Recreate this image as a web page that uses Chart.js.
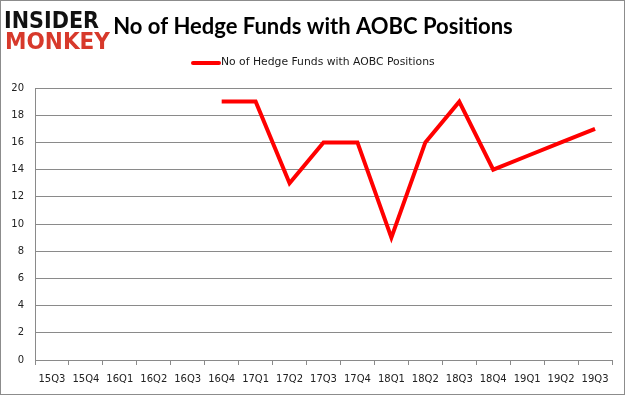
<!DOCTYPE html>
<html lang="en">
<head>
    <meta charset="UTF-8">
    <title>No of Hedge Funds with AOBC Positions</title>
    <script src="https://cdn.jsdelivr.net/npm/chart.js"></script>
    <style>
        html, body { margin: 0; padding: 0; background: #fff; }
        #wrap { width: 625px; height: 395px; }
    </style>
</head>
<body>
    <div id="wrap"><canvas id="myChart" width="625" height="395"></canvas></div>

    <script>
        // data
        const quarters = ['15Q3', '15Q4', '16Q1', '16Q2', '16Q3', '16Q4', '17Q1', '17Q2', '17Q3',
                          '17Q4', '18Q1', '18Q2', '18Q3', '18Q4', '19Q1', '19Q2', '19Q3'];
        const hedgeFundCounts = [null, null, null, null, null, 19, 19, 13, 16, 16, 9, 16, 19, 14, 15, 16, 17];
        const seriesName = 'No of Hedge Funds with AOBC Positions';
        const chartTitle = 'No of Hedge Funds with AOBC Positions';

        const gridGray = '#8a8a8a';

        // draw text squeezed/stretched to a given width
        function fitText(ctx, text, x, y, w) {
            const m = ctx.measureText(text).width;
            ctx.save();
            ctx.translate(x, y);
            ctx.scale(w / m, 1);
            ctx.fillText(text, 0, 0);
            ctx.restore();
        }

        // logo, title, legend and frame
        const decorPlugin = {
            id: 'decor',
            afterDraw: (chart) => {
                const { ctx } = chart;
                ctx.save();

                // frame
                ctx.strokeStyle = '#8c8c8c';
                ctx.lineWidth = 1;
                ctx.strokeRect(0.5, 0.5, chart.width - 1, chart.height - 1);

                // logo
                ctx.textBaseline = 'alphabetic';
                ctx.textAlign = 'left';
                ctx.font = 'bold 23px "DejaVu Sans"';
                ctx.fillStyle = '#111111';
                fitText(ctx, 'INSIDER', 4, 28, 95);
                ctx.fillStyle = '#d7392b';
                fitText(ctx, 'MONKEY', 5, 49, 105);

                // title
                ctx.fillStyle = '#000000';
                ctx.font = 'bold 22px Lato';
                ctx.textAlign = 'center';
                ctx.textBaseline = 'middle';
                ctx.fillText(chartTitle, 313, 27);

                // legend
                ctx.strokeStyle = '#ff0000';
                ctx.lineWidth = 4;
                ctx.lineCap = 'round';
                ctx.beginPath();
                ctx.moveTo(193, 63);
                ctx.lineTo(219, 63);
                ctx.stroke();
                ctx.fillStyle = '#1a1a1a';
                ctx.font = '10.8px "DejaVu Sans"';
                ctx.textAlign = 'left';
                ctx.fillText(seriesName, 221, 62);

                ctx.restore();
            }
        };

        const config = {
            type: 'line',
            data: {
                labels: quarters,
                datasets: [{
                    label: seriesName,
                    data: hedgeFundCounts,
                    borderColor: '#ff0000',
                    backgroundColor: '#ff0000',
                    borderWidth: 4,
                    pointRadius: 0,
                    tension: 0,
                    borderJoinStyle: 'miter',
                    spanGaps: false
                }]
            },
            options: {
                responsive: false,
                animation: false,
                layout: { padding: { top: 88, right: 13, bottom: 0, left: 0 } },
                plugins: {
                    legend: { display: false },
                    title: { display: false },
                    tooltip: { enabled: false }
                },
                scales: {
                    x: {
                        offset: true,
                        grid: {
                            offset: true,
                            drawOnChartArea: false,
                            drawTicks: true,
                            tickLength: 5,
                            color: gridGray
                        },
                        border: { display: true, color: gridGray, width: 1 },
                        ticks: {
                            color: '#222',
                            font: { family: 'DejaVu Sans', size: 10 },
                            padding: 8,
                            maxRotation: 0,
                            autoSkip: false
                        },
                        afterFit: (scale) => { scale.height = 35; }
                    },
                    y: {
                        min: 0,
                        max: 20,
                        grid: { color: gridGray, drawTicks: false },
                        border: { display: true, color: gridGray, width: 1 },
                        ticks: {
                            stepSize: 2,
                            color: '#222',
                            font: { family: 'DejaVu Sans', size: 10 },
                            padding: 11
                        },
                        afterFit: (scale) => { scale.width = 35; }
                    }
                }
            },
            plugins: [decorPlugin]
        };

        const ctx = document.getElementById('myChart').getContext('2d');
        new Chart(ctx, config);
    </script>
</body>
</html>
